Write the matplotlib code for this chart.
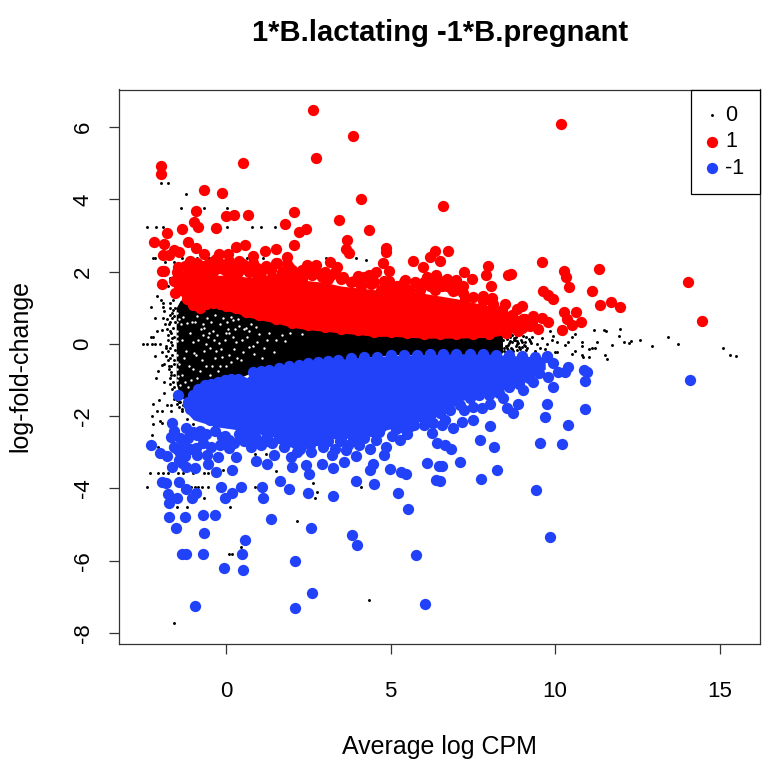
import matplotlib
matplotlib.use("Agg")
import matplotlib.pyplot as plt

plt.rcParams['font.family'] = ['Liberation Sans', 'DejaVu Sans']
plt.rcParams['axes.unicode_minus'] = False

RED = "#FF0000"
BLUE = "#2142F8"

core_x = [-1.52, -1.4, -1.2, -0.8, 0, 1, 2, 3, 4, 5, 6, 7, 8, 8.4]
core_top = [1.0, 1.2, 1.3, 1.1, 1.0, 0.8, 0.6, 0.5, 0.4, 0.4, 0.4, 0.4, 0.35, 0.3]
core_bot = [-1.1, -1.45, -1.6, -1.4, -1.1, -0.7, -0.6, -0.5, -0.4, -0.3, -0.3, -0.3, -0.3, -0.25]

red_band_x = [-1.4, -1.2, -1.0, -0.8, -0.6, -0.4, -0.2, 0, 0.3, 0.6, 1, 1.5, 2, 2.5, 3, 3.5, 4, 4.5, 5, 6, 7, 8, 8.7, 9.4]
red_band_top = [1.7, 1.85, 1.9, 1.95, 1.95, 1.9, 1.9, 1.9, 1.9, 1.85, 1.85, 1.85, 1.8, 1.75, 1.7, 1.6, 1.55, 1.5, 1.5, 1.4, 1.25, 1.05, 0.85, 0.55]
red_band_bot = [1.36, 1.13, 0.95, 0.86, 0.99, 1.02, 0.99, 0.92, 0.86, 0.76, 0.67, 0.58, 0.46, 0.39, 0.35, 0.3, 0.26, 0.21, 0.21, 0.16, 0.16, 0.18, 0.3, 0.4]

blue_band_x = [-1.15, -1.0, -0.65, -0.25, 0.15, 0.5, 0.8, 1.3, 1.9, 2.8, 3.8, 5, 6.2, 7, 8, 9, 9.7]
blue_band_top = [-1.6, -1.4, -1.15, -1.05, -0.96, -1.05, -0.78, -0.73, -0.61, -0.5, -0.39, -0.32, -0.29, -0.27, -0.28, -0.34, -0.36]
blue_band_bot = [-1.95, -2.1, -2.2, -2.3, -2.35, -2.4, -2.45, -2.55, -2.65, -2.65, -2.6, -2.35, -2.05, -1.6, -1.4, -1.1, -0.7]

# 0
black_x = [-1.99, -1.76, -1.21, -1.37, -0.67, 0.01, -2.4, -2.12, -1.92, 0.01, 0.78, 1.05, 1.48,
           -2.22, -2.15, -1.33, -1.15, -0.88, -0.52, 1.12, 0.64, 3.02, 3.94, 4.26, -1.86, -1.59, -0.78,
           1.64, -1.72, -1.28, -1.76, -2.09, -1.99, -1.91, -1.91, -2.28, -2.17, -1.92, -2.09, -1.94,
           -2.3, -2.22, -2.53, -2.4, -2.25, -2.15, -2.02, -2.17, -1.94, -1.84, -1.84, -1.89,
           -2.06, -1.94, -2.13, -1.89, -1.89, -2.22, -2.04, -1.81, -1.69, -2.09, -1.94, -1.69, -2.25,
           -2.0, -2.22, -1.94, -1.33, -1.18, -1.01, -2.27, -2.07, -1.1, -1.16, -0.37, 0.19, 1.2, 0.87,
           -2.32, -2.08, -1.91, -1.77, -1.46, -1.31, -1.01, -0.68, -0.54, -0.09, 1.52,
           -2.41, -1.08, -0.95, -0.86, -0.73, -0.55, 0.87, 2.64, 2.76, 2.7, 4.11, -0.66,
           -1.5, -1.18, 0.11, 2.14, 0.44, 0.1, 0.17, 4.34, -1.58,
           11.19, 11.5, 11.55, 11.98, 11.94, 12.1, 12.26, 12.31, 12.58, 12.95, 13.44, 13.75,
           15.12, 15.32, 15.5, 11.72, 11.26, 11.21, 11.13, 11.04, 10.81, 10.81, 10.81, 10.86, 11.04,
           11.52, 11.57, 10.5, 10.6, 10.4, 10.3, 10.6, 10.5, 10.05, 9.95, 9.84, 9.9, 9.74, 9.69,
           9.54, 9.44, 10.05, 9.99, 9.39, 9.13, 9.24, 9.16, 8.98, 8.83, 8.63, 8.53, 8.75, 8.9, 9.05,
           9.3, 9.6, 8.7, 8.85, 9.1,
           -1.72, -1.7, -1.74, -1.68, -1.76, -1.72, -1.7, -1.75, -1.68, -1.72, -1.78, -1.7, -1.62, -1.55,
           -1.8, -1.66, -1.58, -1.5, -1.45, -1.6,
           -1.9, -1.85, -1.82, -1.8, -1.78, -1.76, -1.74, -1.72, -1.7, -1.68, -1.66, -1.64, -1.62, -1.6, -1.58,
           -1.56, -1.6, -1.64, -1.68, -1.58, -1.62, -1.66, -1.7, -1.6, -1.56, -1.64, -1.68, -1.6, -1.56, -1.62,
           -1.5, -1.4, -1.3, -1.2, -1.45, -1.35, -1.25, -1.15, -1.05,
           8.42, 8.45, 8.48, 8.5, 8.55, 8.58, 8.6, 8.62, 8.65, 8.68, 8.7, 8.72, 8.78, 8.8, 8.82, 8.88, 8.92, 8.95,
           8.44, 8.52, 8.57, 8.66, 8.74, 8.84, 8.98, 9.02, 9.08, 9.12, 9.2, 9.28]
black_y = [4.45, 4.45, 4.15, 3.76, 3.76, 3.76, 3.23, 3.23, 3.23, 3.23, 3.23, 3.23, 3.23,
           2.38, 2.38, 2.38, 2.38, 2.38, 2.38, 2.38, 2.38, 2.38, 2.38, 2.31, 2.26, 2.26, 2.16,
           1.87, 1.83, 1.96, 1.61, 1.32, 1.22, 1.13, 1.01, 1.01, 0.71, 0.73, 0.35, 0.38,
           0.18, 0.18, 0.0, 0.0, 0.0, 0.0, 0.0, -0.33, -0.23, -0.05, -0.33, -0.55,
           -0.74, -0.58, -0.95, -1.05, -1.37, -1.66, -1.55, -1.69, -1.69, -1.85, -1.87, -1.87, -2.0,
           -2.12, -2.22, -2.2, -1.87, -2.08, -2.22, -2.53, -2.86, -2.67, -3.05, -2.27, -2.61, -3.05, -3.05,
           -3.57, -3.57, -3.57, -3.57, -3.57, -3.57, -3.57, -3.57, -3.57, -3.49, -3.52,
           -3.96, -3.96, -3.96, -3.96, -3.96, -3.96, -3.96, -3.86, -4.1, -4.27, -3.96, -4.26,
           -4.52, -4.52, -4.5, -4.91, -5.61, -5.8, -5.8, -7.09, -7.72,
           0.39, 0.38, 0.36, 0.4, 0.22, 0.05, 0.03, 0.07, 0.1, -0.05, 0.2, -0.01,
           -0.1, -0.31, -0.34, -0.03, 0.06, -0.1, -0.1, -0.14, 0.04, -0.05, -0.31, -0.35, -0.35,
           -0.31, -0.42, -0.28, -0.19, 0.04, -0.03, 0.27, 0.18, 0.04, 0.23, 0.36, 0.12, 0.0, -0.14,
           -0.1, 0.0, -0.23, -0.23, -0.2, 0.18, 0.09, -0.1, 0.04, 0.0, 0.09, -0.1, 0.12, -0.08, -0.03,
           0.2, 0.15, -0.14, -0.16, -0.05,
           1.0, 0.8, 0.55, 0.3, 0.1, -0.12, -0.4, -0.62, -0.85, -1.1, -0.2, 1.12, 1.22, 1.32,
           0.42, -1.25, -1.42, -1.55, -1.6, -1.52,
           0.9, 0.55, -0.1, 0.7, -0.45, 0.25, -0.7, 0.62, -0.95, 0.05, 0.85, -0.3, 0.45, -1.2, -0.55,
           0.98, -0.85, 0.72, -0.6, 0.2, 0.95, -0.02, 0.35, -0.45, 0.6, 0.15, -0.78, 0.78, -0.18, -1.05,
           -1.65, -1.6, -1.7, -1.65, -1.75, -1.8, -1.72, -1.75, -1.7,
           0.1, -0.12, 0.22, -0.05, 0.14, -0.18, 0.03, 0.2, -0.1, 0.06, 0.24, -0.2, 0.1, -0.06, 0.18, 0.02, -0.14, 0.12,
           -0.2, 0.2, -0.02, -0.22, 0.16, 0.08, -0.08, 0.22, 0.06, -0.16, 0.14, 0.02]

# holes in the black part of the cloud
gap_x = [-1.5, -1.42, -1.3, -1.22, -1.1, -1.02, -0.95, -0.85, -0.75, -0.66, -0.58, -0.5, -0.42, -0.35, -0.28, -0.2,
         -0.12, -0.05, 0.05, 0.14, 0.22, 0.3, 0.4, 0.5, 0.62, 0.75, 0.85, 1.0, 1.15, 1.3, 1.45, 1.7, 1.95, 2.3,
         -1.48, -1.35, -1.25, -1.12, -1.0, -0.9, -0.78, -0.68, -0.55, -0.45, -0.33, -0.22, -0.1, 0.0, 0.1, 0.25, 0.35,
         0.55, 0.7, 0.9, 1.1, 1.25, 1.5, 1.8, -1.38, -1.18, -0.98, -0.8, -0.62, -0.4, -0.25, 0.02, 0.2, 0.45,
         -1.55, -1.4, -1.15, -0.88, -0.7, -0.48, -0.15, 0.15, 0.32, 0.6, 0.8,
         -1.45, -1.28, -1.05, -0.92, -0.72, -0.52, -0.38, -0.18, -0.02, 0.08, 0.28, 0.48, 0.68, 0.95, -1.33, -1.08, -0.6, -0.3,
         -1.5, -1.5, -1.49, -1.5, -1.5, -1.49, -1.51, -1.5]
gap_y = [0.35, -0.55, 0.75, -0.2, 0.3, -0.7, 0.62, 0.1, -0.45, 0.45, 0.72, -0.1, -0.62, 0.8, 0.25, 0.55,
         -0.35, 0.12, 0.42, -0.5, 0.65, 0.05, 0.5, -0.22, 0.18, 0.55, -0.28, 0.28, -0.1, 0.3, -0.22, 0.25, 0.3, 0.28,
         -0.9, 0.1, -1.05, -0.6, 0.05, -0.95, 0.4, -0.2, 0.2, 0.6, -0.4, 0.02, 0.72, -0.62, 0.3, -0.15, 0.7,
         0.4, -0.08, 0.48, -0.38, 0.1, 0.12, 0.08, 0.55, 0.58, -0.25, -0.75, -0.6, 0.35, -0.75, 0.6, 0.2, -0.45,
         -0.15, -1.15, -1.2, 0.78, 0.25, -0.85, -0.15, 0.75, -0.4, 0.45, -0.05,
         0.7, -0.4, 0.6, -0.3, 0.55, 0.3, 0.1, -0.6, 0.3, -0.3, 0.42, 0.1, 0.35, 0.05, -0.85, -1.0, 0.0, -0.2,
         0.6, 0.08, -0.3, -0.7, -1.0, 0.85, 0.22, -0.5]

# 1
red_x = [2.63, 3.85, 2.74, 0.52, -1.97, -1.97, -0.66, -0.12, 4.09, -0.93, 0.0, 0.24, 0.65, 2.05, 3.44, -0.97, -0.86,
         -0.31, 1.8, -1.35, -1.79, 2.22, 2.44, 4.34, -2.2, -1.89, -1.16, -0.91, 0.31, 0.58, 2.06, 3.67, 3.63, 3.73,
         4.87, 4.87, 1.18, 1.51, -1.59, -1.44, -1.92, -1.74, -0.68, -0.22, 0.06, 0.83, 1.84, -0.37, 0.39, 1.51,
         -0.95, -1.46, -1.94, -1.89, -1.95, 2.47, 2.72, 3.15, 3.38, 1.91, 4.78, 5.67, 4.95, 4.54, 4.34, 4.02, 4.95,
         5.44, 5.98, 6.19, 6.35, 6.37, 6.35,
         10.18, 6.6, 6.74, 6.5, 9.6, 10.27, 10.33, 11.32, 10.42, 14.03, 14.47, 11.12, 9.64, 9.77, 9.93, 11.37, 11.7,
         11.98, 10.26, 10.63, 10.35, 10.8, 10.52, 10.21, 7.95, 7.9, 7.23, 7.48, 8.66, 8.58, 8.04, 6.89, 7.19, 7.0,
         6.7, 7.82, 8.07, 7.26, 8.48, 8.98, 8.83, 8.88, 9.03, 9.34, 9.59, 9.79, 9.49, 8.88, 9.24, 8.63,
         -1.55, -1.45, -1.3, -1.15, -1.0, -0.85, -0.6, -0.4, -0.2, 0, 0.2, 0.4, 0.7, 0.9, 1.1, 1.4, 1.7, 2.0, 2.3, 2.6,
         2.9, 3.2, 3.5, 3.8, 4.1, 4.4, 4.7, 5, 5.3, 5.6, 5.9, 6.2, 6.5, 6.7, 6.95, 7.2, 7.5, 7.8, 8.1, 8.4, 8.7, 9.1, 9.3,
         -1.4, -1.2, -1.0, -0.8, -0.6, -0.4, -0.2, 0, 0.3, 0.6, 1, 1.5, 2, 2.5, 3, 3.5, 4, 4.5, 5, 5.5, 6, 6.5, 7, 7.5,
         8, 8.5, 9.0,
         -1.6, -1.5, -1.4, -1.25, -1.1, -1.0, -0.9, -0.75, -0.55, -0.45, -0.3, -0.15, -0.05, 0.1, 0.25, 0.35, 0.5, 0.65,
         0.8, 0.95, 1.05, 1.2, 1.35, 1.55, 1.7, 1.85, 2.0, 2.15, 2.3, 2.5, 2.65, 2.8, 3.0, 3.1, 3.3, 3.55, 3.9, 4.2, 4.5,
         4.8, 5.2, 5.4, 5.75, 6.0, 6.1, 6.3, 6.55, 6.85]
red_y = [6.48, 5.75, 5.14, 5.0, 4.92, 4.69, 4.27, 4.18, 4.01, 3.69, 3.53, 3.58, 3.57, 3.65, 3.43, 3.36, 3.24,
         3.22, 3.32, 3.18, 3.08, 3.09, 3.17, 3.15, 2.83, 2.77, 2.82, 2.65, 2.69, 2.73, 2.73, 2.87, 2.63, 2.51,
         2.66, 2.55, 2.57, 2.63, 2.61, 2.53, 2.47, 2.47, 2.5, 2.49, 2.49, 2.44, 2.41, 2.3, 2.3, 2.25,
         2.21, 2.12, 2.02, 2.02, 1.65, 2.17, 2.18, 2.27, 2.12, 2.12, 2.24, 2.3, 2.03, 1.98, 1.91, 1.87, 1.75,
         1.78, 2.12, 2.4, 2.56, 1.9, 1.5,
         6.09, 3.82, 2.56, 2.3, 2.28, 2.03, 1.86, 2.07, 1.58, 1.7, 0.63, 1.46, 1.47, 1.35, 1.24, 1.08, 1.17,
         1.01, 0.87, 0.89, 0.69, 0.61, 0.52, 0.39, 2.15, 1.9, 2.0, 1.8, 1.93, 1.91, 1.61, 1.47, 1.61, 1.77,
         1.8, 1.33, 1.26, 1.24, 1.1, 1.06, 0.96, 0.64, 0.69, 0.78, 0.73, 0.61, 0.41, 0.36, 0.5, 0.6,
         1.4, 1.6, 1.75, 1.95, 1.85, 2.0, 1.9, 2.0, 2.1, 2.05, 1.95, 2.05, 2.0, 1.95, 1.8, 1.85, 1.9, 1.85, 1.8, 1.9,
         1.85, 1.9, 1.8, 1.7, 1.6, 1.65, 1.5, 1.55, 1.55, 1.5, 1.5, 1.6, 1.75, 1.6, 1.5, 1.4, 1.3, 1.2, 1.1, 0.95, 0.8, 0.7, 0.6,
         1.48, 1.25, 1.07, 0.98, 1.11, 1.14, 1.11, 1.04, 0.98, 0.88, 0.79, 0.7, 0.58, 0.51, 0.47, 0.42, 0.38, 0.33, 0.33,
         0.3, 0.28, 0.28, 0.28, 0.28, 0.28, 0.3, 0.44,
         1.75, 2.0, 1.85, 2.15, 2.3, 2.05, 2.25, 2.15, 2.2, 2.1, 2.35, 2.2, 2.05, 2.3, 2.15, 2.0, 2.2, 2.05,
         2.25, 2.1, 2.0, 2.15, 2.05, 2.25, 2.0, 2.2, 2.05, 1.95, 2.05, 1.95, 2.05, 1.95, 2.0, 1.8, 2.0, 1.85, 1.75, 1.85, 1.7,
         1.75, 1.6, 1.7, 1.7, 1.7, 1.85, 1.75, 1.6, 1.55]

# -1
blue_x = [-1.47, -2.3, -2.02, -1.81, -1.66, -1.94, -1.76, -1.49, -1.75, -1.74, -1.26, -1.53, -0.69, -0.35, -0.68,
          -1.33, -1.23, -0.7, 0.58, 0.48, -0.06, 0.51, -0.95, 2.08, 2.61, 2.1, 1.35, 2.58, 3.84, 3.99, 5.78, 6.04,
          5.54, 5.21, 4.48, 3.96, 3.26, 2.49, 1.91, 1.63, 1.13, 1.09, 0.45, 0.17, -0.04, -0.16, 0.19, -0.3, -0.93,
          -1.05, -1.23, -1.44, -1.84, -0.94, -1.23, -0.56, -0.26, 0.29, 0.92, 1.24, 1.45, 2.01, 2.52, 2.42, 2.92,
          3.26, 3.58, 3.94, 4.36, 4.47, 4.36, 4.8, 4.85, 4.98, 5.3, 5.46, 5.27, 5.56, 6.11, 6.39, 6.47, 6.42, 6.27,
          -1.64, -1.69, -1.59, -1.39, -1.23, -0.88, -0.93, -0.88, -0.57, -0.47, 0.08, -0.12, 0.74, 0.79, 1.2, 1.96,
          2.16, 1.81, 2.57, 3.23, 3.63,
          14.1, 10.4, 10.1, 10.3, 10.88, 10.98, 10.91, 9.93, 9.76, 9.7, 10.92, 10.39, 9.54, 10.2, 8.86, 8.54, 8.72,
          8.01, 7.73, 8.15, 6.83, 6.65, 7.12, 6.55, 8.24, 7.74, 9.42, 9.85, 6.5, 6.91, 7.16, 7.49, 7.23, 7.51, 8.02,
          7.77, 6.55, 6.65, 6.8, 9.03, 9.34, 9.79, 9.95, 9.74, 8.43,
          -1.15, -1.0, -0.85, -0.65, -0.45, -0.25, -0.05, 0.15, 0.35, 0.5, 0.8, 1.05, 1.3, 1.6, 1.9, 2.2, 2.5, 2.8,
          3.1, 3.4, 3.8, 4.2, 4.6, 5, 5.4, 5.8, 6.2, 6.6, 7, 7.4, 7.8, 8.2, 8.6, 9, 9.4, 9.75,
          -1.1, -0.9, -0.7, -0.5, -0.3, 0, 0.3, 0.5, 0.8, 1.1, 1.4, 1.7, 2, 2.3, 2.6, 2.9, 3.2, 3.5, 3.8, 4.1, 4.4,
          4.7, 5, 5.3, 5.6, 5.9, 6.2, 6.5, 6.8, 7.1, 7.4, 7.7, 8, 8.3, 8.6, 8.9, 9.2, 9.5,
          -1.15, -1.05, -0.95, -0.4, -0.1, 0.3, 0.6, 1.0,
          -1.6, -1.5, -1.4, -1.45, -1.3, -1.35, -1.25, -1.15, -1.1, -1.0, -0.8, -0.7, -0.6, -0.35, -0.2, -0.05, 0.1, 0.25,
          0.4, 0.55, 0.7, 0.9, 1.05, 1.25, 1.4, 1.6, 1.75, 1.9, 2.1, 2.25, 2.4, 2.55, 2.75, 2.95, 3.1, 3.3, 3.45, 3.7,
          3.85, 4.05, 4.2, 4.55, 4.65, 5.05, 5.15, 5.5, 5.7, 6.0, 6.15, 6.3]
blue_y = [-1.4, -2.81, -3.03, -3.1, -3.4, -3.81, -4.14, -4.25, -4.41, -4.78, -4.78, -5.09, -4.73, -4.73, -5.22,
          -5.8, -5.8, -5.8, -5.43, -5.8, -6.21, -6.26, -7.24, -7.3, -6.88, -6.01, -4.84, -5.09, -5.29, -5.57, -5.83, -7.2,
          -4.56, -4.12, -3.88, -3.78, -4.2, -4.12, -4.02, -3.8, -4.25, -3.97, -3.95, -4.12, -4.27, -3.95, -3.49, -3.55, -4.12,
          -4.27, -4.02, -3.81, -3.86, -3.42, -3.4, -3.32, -3.14, -3.12, -3.23, -3.32, -3.08, -3.4, -3.61, -3.35, -3.32,
          -3.42, -3.26, -3.09, -3.49, -3.31, -2.91, -3.07, -2.84, -3.45, -3.54, -3.61, -2.66, -2.31, -3.29, -3.77, -3.38, -2.75, -2.47,
          -2.2, -2.57, -2.84, -3.03, -2.34, -2.52, -2.89, -3.08, -3.08, -2.84, -2.89, -2.57, -2.84, -2.61, -2.7, -3.12,
          -2.98, -2.75, -2.98, -3.07, -2.94,
          -0.99, -0.63, -0.77, -0.77, -0.72, -0.77, -1.03, -1.18, -1.67, -2.01, -1.8, -2.24, -2.75, -2.78, -1.66, -1.78, -1.9,
          -2.26, -2.67, -2.84, -2.91, -2.8, -3.27, -3.38, -3.5, -3.73, -4.05, -5.34, -3.8, -2.34, -2.15, -2.11, -1.83, -1.74, -1.66,
          -1.78, -2.24, -2.1, -1.83, -1.28, -1.06, -0.91, -0.54, -0.34, -1.51,
          -1.6, -1.4, -1.25, -1.15, -1.1, -1.05, -1.0, -0.96, -0.98, -1.05, -0.78, -0.75, -0.73, -0.68, -0.61, -0.57, -0.53, -0.5,
          -0.47, -0.45, -0.39, -0.37, -0.35, -0.32, -0.31, -0.3, -0.29, -0.27, -0.27, -0.27, -0.28, -0.3, -0.32, -0.34, -0.36, -0.36,
          -1.8, -1.95, -2.0, -2.1, -2.0, -2.1, -2.2, -2.1, -2.2, -2.3, -2.4, -2.45, -2.5, -2.6, -2.5, -2.5, -2.45, -2.6, -2.5, -2.5, -2.4,
          -2.3, -2.2, -2.3, -2.1, -2.0, -2.0, -1.9, -1.6, -1.7, -1.5, -1.4, -1.4, -1.35, -1.2, -1.1, -0.95, -0.8,
          -1.65, -1.8, -1.6, -1.5, -1.7, -1.6, -1.9, -1.7,
          -2.4, -2.9, -2.6, -3.2, -2.8, -3.3, -3.1, -2.6, -2.9, -2.45, -2.4, -2.75, -2.5, -2.4, -2.8, -2.55, -2.65, -2.75,
          -2.5, -2.7, -2.45, -2.6, -2.8, -2.55, -2.75, -2.6, -2.85, -2.65, -2.75, -2.9, -2.7, -2.8, -2.65, -2.85, -2.7, -2.9, -2.7, -2.8,
          -2.65, -2.8, -2.6, -2.65, -2.45, -2.55, -2.35, -2.5, -2.25, -2.25, -2.15, -2.2]

x_ticks = [0, 5, 10, 15]
y_ticks = [-8, -6, -4, -2, 0, 2, 4, 6]

fig = plt.figure(figsize=(7.71, 7.68), dpi=100)
ax = fig.add_axes([119.3 / 771, 1 - 643.5 / 768, (760 - 119.3) / 771, (643.5 - 89.5) / 768])

# black cloud
ax.fill_between(core_x, core_bot, core_top, color="black", lw=0, zorder=1)
ax.scatter(gap_x, gap_y, s=3, c="white", lw=0, zorder=1.5)
ax.scatter(black_x, black_y, s=4.5, c="black", lw=0, zorder=2, label="0")
# red
ax.fill_between(red_band_x, red_band_bot, red_band_top, color=RED, lw=0, zorder=3)
ax.scatter(red_x, red_y, s=66, c=RED, lw=0, zorder=3, label="1")
# blue
ax.fill_between(blue_band_x, blue_band_bot, blue_band_top, color=BLUE, lw=0, zorder=4)
ax.scatter(blue_x, blue_y, s=66, c=BLUE, lw=0, zorder=4, label="-1")

ax.set_xlim(-3.25, 16.23)
ax.set_ylim(-8.29, 7.04)
ax.set_xticks(x_ticks)
ax.set_yticks(y_ticks)
ax.tick_params(axis="both", length=7.5, width=0.9, color="#333333", labelsize=16)
ax.tick_params(axis="x", pad=19.5)
ax.tick_params(axis="y", pad=11)
for lab in ax.get_yticklabels():
    lab.set_rotation(90)
    lab.set_va("center")
for s in ax.spines.values():
    s.set_linewidth(0.9)
    s.set_color("#333333")

ax.set_title("1*B.lactating -1*B.pregnant", fontsize=21, fontweight="bold", pad=35)
ax.set_xlabel("Average log CPM", fontsize=18, labelpad=24)
ax.set_ylabel("log-fold-change", fontsize=18, labelpad=29)

leg = ax.legend(loc="upper right", fontsize=15.5, fancybox=False, framealpha=1, edgecolor="black",
                borderaxespad=0, labelspacing=0.25, handlelength=0.55, handletextpad=0.35, borderpad=0.72)
leg.get_frame().set_linewidth(0.9)

plt.savefig("out.png", dpi=100)
